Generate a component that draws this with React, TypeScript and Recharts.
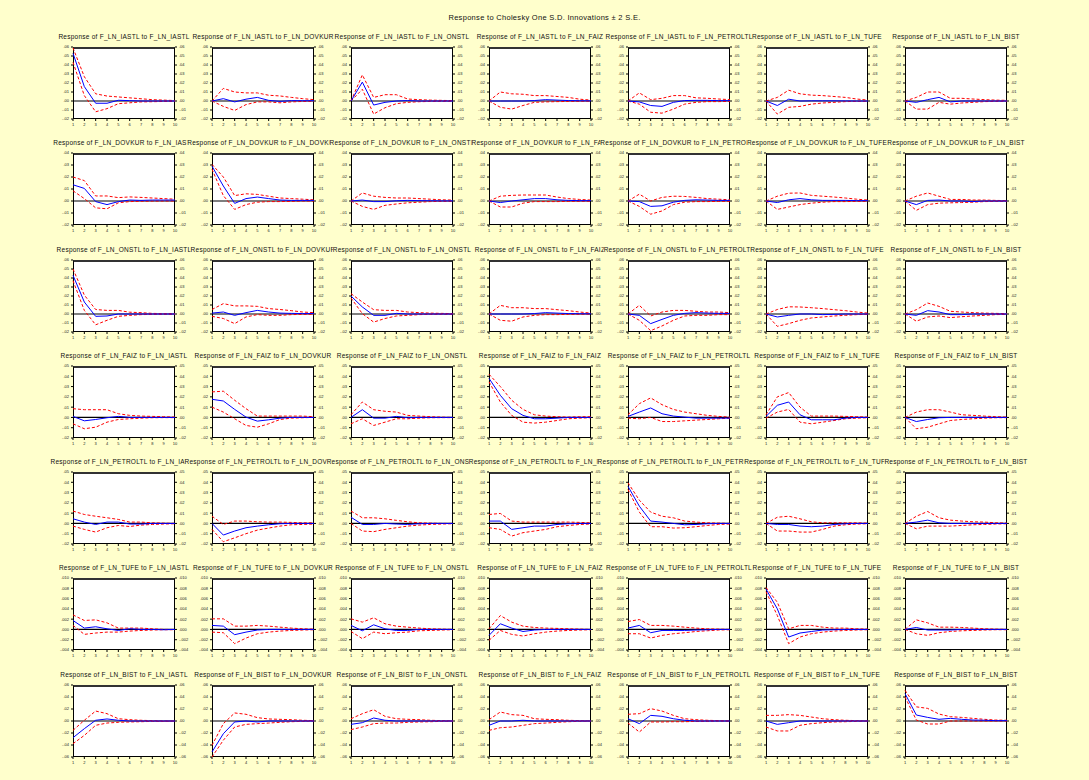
import { LineChart, Line, XAxis, YAxis, ReferenceLine } from "recharts";

const VARS = ["IASTL", "DOVKUR", "ONSTL", "FAIZ", "PETROLTL", "TUFE", "BIST"];
const PERIODS = [1, 2, 3, 4, 5, 6, 7, 8, 9, 10];

// y ticks for each response row (top to bottom of the grid)
const ROW_TICKS = [
  [-0.02, -0.01, 0, 0.01, 0.02, 0.03, 0.04, 0.05, 0.06],
  [-0.02, -0.01, 0, 0.01, 0.02, 0.03, 0.04],
  [-0.02, -0.01, 0, 0.01, 0.02, 0.03, 0.04, 0.05, 0.06],
  [-0.02, -0.01, 0, 0.01, 0.02, 0.03, 0.04, 0.05],
  [-0.02, -0.01, 0, 0.01, 0.02, 0.03, 0.04, 0.05],
  [-0.004, -0.002, 0, 0.002, 0.004, 0.006, 0.008, 0.01],
  [-0.06, -0.04, -0.02, 0, 0.02, 0.04, 0.06],
];
const ROW_DECIMALS = [2, 2, 2, 2, 2, 3, 2];

// response of IASTL to each shock
const IASTL_MID = [
  [0.053, 0.016, -0.0025, -0.0025, 0.0008, 0.0004, 0, 0, 0, 0],
  [0, 0.0026, -0.001, 0.002, 0.004, 0.0007, -0.0004, 0.0004, 0.0003, 0.0003],
  [0, 0.021, -0.0045, -0.0015, 0, 0.0005, 0, 0, 0, 0],
  [0, 0, 0, 0, 0.0005, 0.0015, 0.001, 0.0005, 0.0003, 0.0002],
  [0, -0.001, -0.005, -0.006, -0.0015, 0.0005, 0.0007, 0.0007, 0.0004, 0.0004],
  [0, -0.005, 0.002, 0, 0.0002, 0.0002, 0.0002, 0.0001, 0, 0],
  [0, -0.0015, 0.0015, 0.004, -0.001, 0, 0, 0, 0, 0],
];
const IASTL_UP = [
  [0.059, 0.027, 0.008, 0.0055, 0.0045, 0.0035, 0.0025, 0.0015, 0.001, 0.0005],
  [0, 0.014, 0.01, 0.009, 0.009, 0.0064, 0.0056, 0.004, 0.0026, 0.0015],
  [0, 0.029, 0.004, 0.007, 0.007, 0.0022, 0.0015, 0.001, 0.0007, 0.0004],
  [0, 0.01, 0.008, 0.0075, 0.006, 0.006, 0.005, 0.004, 0.002, 0.001],
  [0, 0.009, 0.0015, 0.003, 0.006, 0.006, 0.0035, 0.003, 0.0022, 0.0015],
  [0, 0.004, 0.012, 0.008, 0.0065, 0.006, 0.005, 0.004, 0.0022, 0.001],
  [0, 0.004, 0.01, 0.01, 0.003, 0.003, 0.0022, 0.0015, 0.001, 0.0007],
];
const IASTL_LO = [
  [0.043, 0.006, -0.012, -0.0085, -0.003, -0.002, -0.001, -0.0008, -0.0005, -0.0004],
  [0, -0.006, -0.0105, -0.004, -0.001, -0.001, -0.002, -0.001, -0.0005, -0.0003],
  [0, 0.013, -0.0145, -0.0075, -0.003, -0.0015, -0.0008, -0.0005, -0.0004, -0.0003],
  [0, -0.007, -0.009, -0.005, -0.0015, -0.001, -0.0007, -0.0005, -0.0003, -0.0002],
  [0, -0.0035, -0.0125, -0.0135, -0.009, -0.0035, -0.0015, -0.0007, -0.0007, -0.0004],
  [0, -0.0145, -0.007, -0.006, -0.0035, -0.0022, -0.0015, -0.0007, -0.0004, -0.0004],
  [0, -0.009, -0.009, -0.0015, -0.0035, -0.0022, -0.0015, -0.0007, -0.0004, -0.0003],
];

const DOVKUR_MID = [
  [0.0135, 0.0105, -0.0005, -0.003, -0.0005, 0.0008, 0.0005, 0.0008, 0.0008, 0.0008],
  [0.029, 0.0125, -0.002, 0.002, 0.0033, 0.002, 0.0008, 0.0005, 0.0005, 0.0005],
  [0, 0.0008, -0.0005, -0.0005, 0.0002, 0.0005, 0.0003, 0.0002, 0.0001, 0.0001],
  [0, -0.0013, 0, 0.001, 0.002, 0.002, 0.001, 0.0005, 0.0003, 0.0003],
  [0, -0.0005, -0.0045, -0.004, -0.001, 0.0005, 0.001, 0.0008, 0.0005, 0.0005],
  [0, -0.0013, 0.001, 0.002, 0.001, 0.0005, 0.0005, 0.0005, 0.0003, 0.0003],
  [0, -0.003, 0.0005, 0.0008, 0, 0, -0.0005, 0, 0, 0],
];
const DOVKUR_UP = [
  [0.02, 0.017, 0.0042, 0.0042, 0.0028, 0.0034, 0.003, 0.0025, 0.002, 0.0015],
  [0.0305, 0.02, 0.0045, 0.006, 0.0055, 0.004, 0.0025, 0.002, 0.0015, 0.001],
  [0, 0.0067, 0.004, 0.003, 0.0025, 0.0025, 0.002, 0.0015, 0.001, 0.0008],
  [0, 0.004, 0.0047, 0.005, 0.005, 0.005, 0.0033, 0.002, 0.0013, 0.0008],
  [0, 0.0057, 0, 0.003, 0.004, 0.0038, 0.003, 0.002, 0.0015, 0.001],
  [0, 0.004, 0.0065, 0.0067, 0.0047, 0.004, 0.0033, 0.0025, 0.0015, 0.0008],
  [0, 0.004, 0.0067, 0.004, 0.0013, 0.0013, 0.0008, 0.0008, 0.0005, 0.0003],
];
const DOVKUR_LO = [
  [0.0085, 0.002, -0.0057, -0.0065, -0.0015, -0.0005, -0.0002, -0.0001, 0, 0],
  [0.0265, 0.0045, -0.007, -0.003, -0.001, -0.0005, -0.0005, -0.0003, 0, 0],
  [0, -0.0045, -0.007, -0.0036, -0.0025, -0.0015, -0.001, -0.0005, -0.0003, -0.0003],
  [0, -0.005, -0.005, -0.0018, -0.0005, -0.0005, -0.0005, -0.0003, -0.0002, -0.0002],
  [0, -0.0045, -0.011, -0.0083, -0.003, -0.001, -0.0005, -0.0005, -0.0003, -0.0002],
  [0, -0.007, -0.005, -0.003, -0.0018, -0.001, -0.0005, -0.0005, -0.0003, -0.0003],
  [0, -0.0078, -0.003, -0.0018, -0.0015, -0.0013, -0.001, -0.0005, -0.0003, -0.0002],
];

const ONSTL_MID = [
  [0.043, 0.0133, -0.0026, -0.0022, 0, 0, 0, 0, 0, 0],
  [0.001, 0.0022, -0.0015, 0.0015, 0.004, 0.0022, 0.001, 0.0007, 0.0005, 0.0005],
  [0.02, 0.0078, -0.0015, -0.0015, 0.0007, 0, 0, 0, 0, 0],
  [0, 0, 0, 0, 0.0005, 0.0015, 0.001, 0.0005, 0.0003, 0.0002],
  [0, -0.0015, -0.0107, -0.006, -0.0015, 0.0007, 0.0015, 0.001, 0.0007, 0.0007],
  [0, -0.0033, -0.0015, 0, 0, -0.0007, -0.0004, 0, 0, 0],
  [0, -0.0015, 0.0037, 0.0022, -0.0007, -0.0007, 0, 0, 0, 0],
];
const ONSTL_UP = [
  [0.05, 0.021, 0.005, 0.004, 0.004, 0.002, 0.0015, 0.0007, 0.0004, 0.0004],
  [0.005, 0.0115, 0.009, 0.009, 0.0085, 0.006, 0.005, 0.0037, 0.0022, 0.0015],
  [0.0226, 0.0133, 0.0048, 0.004, 0.004, 0.0022, 0.0015, 0.001, 0.0007, 0.0004],
  [0, 0.0096, 0.007, 0.007, 0.006, 0.006, 0.0048, 0.0037, 0.0022, 0.001],
  [0, 0.0096, -0.0022, 0.0022, 0.004, 0.004, 0.003, 0.0022, 0.0022, 0.0015],
  [0, 0.005, 0.008, 0.0078, 0.007, 0.006, 0.0048, 0.0037, 0.0022, 0.001],
  [0, 0.0048, 0.0122, 0.0085, 0.003, 0.0022, 0.0015, 0.001, 0.0007, 0.0004],
];
const ONSTL_LO = [
  [0.037, 0.004, -0.012, -0.007, -0.0026, -0.0015, -0.0007, -0.0004, -0.0003, -0.0003],
  [-0.0026, -0.005, -0.0107, -0.0033, -0.0007, -0.0015, -0.0015, -0.0007, -0.0004, -0.0004],
  [0.0178, 0.0004, -0.009, -0.005, -0.0022, -0.0015, -0.0007, -0.0004, -0.0003, -0.0003],
  [0, -0.007, -0.008, -0.0033, -0.0015, -0.0007, -0.0007, -0.0004, -0.0003, -0.0002],
  [0, -0.007, -0.0185, -0.0133, -0.007, -0.0022, -0.0015, -0.0015, -0.0007, -0.0007],
  [0, -0.0137, -0.0107, -0.007, -0.0044, -0.0033, -0.0022, -0.0015, -0.0007, -0.0004],
  [0, -0.008, -0.0033, -0.0022, -0.004, -0.003, -0.0022, -0.0015, -0.0007, -0.0004],
];

const FAIZ_MID = [
  [0.001, -0.0033, -0.002, -0.0003, 0.001, 0, 0, 0, 0, 0],
  [0.0176, 0.016, 0.0078, 0.0003, -0.0036, -0.0023, -0.0007, 0, 0, 0],
  [0, 0.0075, -0.0007, -0.0007, 0.001, -0.0003, 0, 0, 0, 0],
  [0.038, 0.0215, 0.0085, 0.002, -0.0013, -0.0013, -0.0007, 0, 0, 0],
  [0.001, 0.0052, 0.0092, 0.0036, 0.0013, 0.0003, -0.0007, -0.0007, -0.0007, -0.0007],
  [0.001, 0.0118, 0.015, 0.0026, -0.0023, -0.0023, -0.0023, -0.0007, 0, 0],
  [0, -0.004, -0.002, -0.0003, 0, 0, 0, 0, 0, 0],
];
const FAIZ_UP = [
  [0.0085, 0.0075, 0.0075, 0.0075, 0.0036, 0.002, 0.0013, 0.001, 0.0007, 0.0003],
  [0.0248, 0.0255, 0.0167, 0.0085, 0.0013, 0.0013, 0.0013, 0.0013, 0.0013, 0.0007],
  [0.0026, 0.015, 0.0075, 0.006, 0.0052, 0.002, 0.0013, 0.0007, 0.0003, 0],
  [0.042, 0.03, 0.0167, 0.0078, 0.0026, 0.0013, 0.0007, 0.0003, 0.0007, 0.0007],
  [0.0026, 0.0134, 0.019, 0.0124, 0.0078, 0.0052, 0.0036, 0.002, 0.001, 0.0003],
  [0.0026, 0.02, 0.0242, 0.01, 0.0013, 0.0013, 0.0013, 0.001, 0.0007, 0.0003],
  [0, 0.0052, 0.0075, 0.0075, 0.0052, 0.0026, 0.002, 0.0013, 0.0007, 0.0003],
];
const FAIZ_LO = [
  [-0.0062, -0.011, -0.0095, -0.0046, -0.002, -0.0013, -0.0007, -0.0003, -0.0002, -0.0002],
  [0.01, 0.0052, -0.0013, -0.0078, -0.0095, -0.0062, -0.002, -0.0007, -0.0003, 0],
  [-0.0062, -0.0013, -0.0078, -0.0046, -0.0013, -0.0013, -0.0007, -0.0003, -0.0002, -0.0002],
  [0.0346, 0.015, 0.002, -0.0046, -0.0055, -0.0046, -0.003, -0.0013, -0.0007, -0.0003],
  [-0.0007, -0.0013, 0, -0.004, -0.004, -0.0033, -0.0026, -0.002, -0.0013, -0.0007],
  [-0.0007, 0.0052, 0.0078, -0.0046, -0.0062, -0.0046, -0.003, -0.0013, -0.0007, -0.0003],
  [0, -0.011, -0.0095, -0.0062, -0.003, -0.002, -0.0013, -0.0007, -0.0003, -0.0002],
];

const PETROL_MID = [
  [0.0045, 0.0013, -0.001, 0.0013, 0.0013, -0.0006, -0.0006, 0, 0, 0],
  [0, -0.0113, -0.0074, -0.0042, -0.0026, -0.0013, -0.0003, 0, 0, 0],
  [0.006, -0.001, -0.001, 0, -0.0006, -0.001, -0.0003, 0, 0, 0],
  [0.0023, 0.0023, -0.0058, -0.0042, -0.0026, -0.0026, -0.001, -0.0003, 0, 0],
  [0.036, 0.0168, 0.0023, 0.0013, 0, -0.0013, -0.001, -0.0003, 0, 0],
  [0, -0.001, -0.001, -0.0026, -0.0032, -0.0026, -0.001, -0.0003, 0, 0],
  [0, 0.0013, 0.0032, 0.0006, 0, 0, 0, 0, 0, 0],
];
const PETROL_UP = [
  [0.012, 0.0087, 0.007, 0.0055, 0.0039, 0.0013, 0.0013, 0.0006, 0.0003, 0],
  [0.007, -0.001, 0.0023, 0.0023, 0.0016, 0.0013, 0.0013, 0.001, 0.0006, 0.0006],
  [0.012, 0.0055, 0.0055, 0.0045, 0.003, 0.0016, 0.0006, 0.0003, 0, 0],
  [0.0087, 0.0097, 0.0023, 0.0013, 0.0013, 0.0013, 0.0013, 0.0013, 0.001, 0.0006],
  [0.0395, 0.0226, 0.011, 0.007, 0.0055, 0.0023, 0.0013, 0.0006, 0.0003, 0],
  [0, 0.006, 0.007, 0.0045, 0.0016, 0.0006, 0.0006, 0.0006, 0.0006, 0.0003],
  [0, 0.007, 0.0116, 0.0055, 0.0032, 0.0023, 0.0016, 0.0013, 0.0006, 0.0003],
];
const PETROL_LO = [
  [-0.0026, -0.0058, -0.0084, -0.0042, -0.002, -0.003, -0.0016, -0.001, -0.0006, -0.0003],
  [-0.0058, -0.0178, -0.014, -0.01, -0.0065, -0.0045, -0.0026, -0.0013, -0.001, -0.0006],
  [0, -0.0074, -0.008, -0.0058, -0.0042, -0.0026, -0.0016, -0.001, -0.0006, -0.0003],
  [-0.0042, -0.0058, -0.0123, -0.009, -0.0074, -0.0058, -0.0032, -0.002, -0.001, -0.0006],
  [0.033, 0.011, -0.0032, -0.0032, -0.0045, -0.0042, -0.0032, -0.002, -0.001, -0.0006],
  [0, -0.0074, -0.0074, -0.0084, -0.0084, -0.0058, -0.0026, -0.0013, -0.0006, -0.0003],
  [0, -0.0052, -0.0026, -0.0026, -0.0026, -0.002, -0.0013, -0.001, -0.0006, -0.0003],
];

const TUFE_MID = [
  [0.00174, 0.00026, 0.00052, 0.00012, -0.0002, 0.00012, 0, 0, -0.00006, 0],
  [0.00078, 0.00064, -0.00102, -0.00052, -0.00012, 0, 0, 0, 0, 0],
  [0.00078, -0.00026, 0.0009, 0.00012, -0.0002, -0.0002, 0, 0, 0, 0],
  [-0.00116, 0.0011, 0.00026, -0.0004, -0.00012, 0, 0, 0, 0, 0],
  [0.00026, 0.00078, -0.00064, -0.0002, -0.0002, -0.0002, -0.00012, -0.00006, 0, 0],
  [0.00784, 0.004, -0.00148, -0.0007, -0.0004, -0.00012, -0.00006, 0, 0, 0],
  [0, 0.00038, -0.00012, -0.00012, -0.00012, 0, 0, 0, 0, 0],
];
const TUFE_UP = [
  [0.00282, 0.00174, 0.00186, 0.00128, 0.00026, 0.00026, 0.00026, 0.00012, 0, 0],
  [0.00206, 0.00206, 0.00064, 0.00064, 0.00078, 0.00064, 0.00044, 0.00026, 0.00012, 0.00006],
  [0.00206, 0.00142, 0.00226, 0.0011, 0.00064, 0.00044, 0.00026, 0.00012, 0.00006, 0],
  [0.00012, 0.0027, 0.00142, 0.00064, 0.00038, 0.00026, 0.0002, 0.00012, 0.00006, 0],
  [0.00154, 0.00192, 0.00078, 0.00078, 0.00064, 0.00044, 0.00026, 0.00012, 0.00006, 0],
  [0.00816, 0.00528, 0.00012, 0.00078, 0.00078, 0.00044, 0.00026, 0.00026, 0.00012, 0.00006],
  [0, 0.00186, 0.00128, 0.00044, 0.00044, 0.00038, 0.00026, 0.00012, 0.00006, 0],
];
const TUFE_LO = [
  [0.00078, -0.00096, -0.0007, -0.00052, -0.00052, -0.00032, -0.0002, -0.00012, -0.00006, -0.00006],
  [-0.00052, -0.00064, -0.00276, -0.00168, -0.00084, -0.00052, -0.00032, -0.0002, -0.00012, -0.00006],
  [-0.0004, -0.0018, -0.00052, -0.00084, -0.00064, -0.00052, -0.00026, -0.0002, -0.00012, -0.00006],
  [-0.00212, -0.0002, -0.00096, -0.00128, -0.00084, -0.00052, -0.00032, -0.0002, -0.00012, -0.00006],
  [-0.00084, -0.00084, -0.00168, -0.00116, -0.00084, -0.00064, -0.0004, -0.00026, -0.00012, -0.00006],
  [0.00734, 0.0027, -0.00276, -0.00148, -0.00084, -0.00052, -0.00032, -0.0002, -0.00012, -0.00006],
  [0, -0.00084, -0.00116, -0.00064, -0.0004, -0.00026, -0.0002, -0.00012, -0.00006, -0.00006],
];

const BIST_MID = [
  [-0.0278, -0.0128, 0.0012, 0.0034, 0.0012, 0, 0, 0, 0, 0],
  [-0.0516, -0.0212, -0.0016, 0, -0.0016, 0, 0, 0, 0, 0],
  [-0.0056, -0.0028, 0.005, 0.0012, 0, 0, 0, 0, 0, 0],
  [-0.0072, 0, 0, 0.0012, 0, 0, 0, 0, 0, 0],
  [0.0038, -0.0044, 0.0094, 0.0078, 0.0038, 0.0012, 0, 0, 0, 0],
  [0, -0.0056, -0.0028, 0, 0, 0, 0, 0, 0, 0],
  [0.0458, 0.01, 0.006, 0.0028, 0.0044, 0.0028, 0.0016, 0.0012, 0.0006, 0.0006],
];
const BIST_UP = [
  [-0.0156, 0.0012, 0.0166, 0.0122, 0.0038, 0.0022, 0.0012, 0.0006, 0, 0],
  [-0.0406, -0.0044, 0.0134, 0.0112, 0.0056, 0.0034, 0.0028, 0.0022, 0.0012, 0.0006],
  [0.0038, 0.0122, 0.0188, 0.0078, 0.0038, 0.0028, 0.0022, 0.0012, 0.0006, 0],
  [0.0022, 0.015, 0.0106, 0.0094, 0.0038, 0.0028, 0.0022, 0.0012, 0.0006, 0],
  [0.0112, 0.0122, 0.0206, 0.0166, 0.0094, 0.0038, 0.0022, 0.0012, 0.0006, 0],
  [0.0094, 0.0094, 0.0106, 0.0094, 0.0066, 0.0038, 0.0022, 0.0012, 0.0006, 0],
  [0.0512, 0.0236, 0.021, 0.0116, 0.0072, 0.006, 0.0044, 0.0028, 0.0016, 0.0012],
];
const BIST_LO = [
  [-0.0378, -0.024, -0.0072, -0.0034, -0.0022, -0.0016, -0.0012, -0.0006, -0.0006, 0],
  [-0.06, -0.032, -0.01, -0.0056, -0.0044, -0.0034, -0.0022, -0.0012, -0.0006, 0],
  [-0.0144, -0.01, -0.0044, -0.0034, -0.0034, -0.0022, -0.0016, -0.0012, -0.0006, 0],
  [-0.0156, -0.0112, -0.01, -0.0072, -0.0044, -0.0034, -0.0022, -0.0012, -0.0006, 0],
  [-0.0034, -0.0184, -0.0016, -0.0016, -0.0012, -0.0012, -0.0006, -0.0006, 0, 0],
  [-0.01, -0.0166, -0.0166, -0.0072, -0.0044, -0.0028, -0.0016, -0.0012, -0.0006, 0],
  [0.0402, 0.0016, -0.005, -0.005, 0, 0, 0, 0, 0, 0],
];

const MID = [IASTL_MID, DOVKUR_MID, ONSTL_MID, FAIZ_MID, PETROL_MID, TUFE_MID, BIST_MID];
const UP = [IASTL_UP, DOVKUR_UP, ONSTL_UP, FAIZ_UP, PETROL_UP, TUFE_UP, BIST_UP];
const LO = [IASTL_LO, DOVKUR_LO, ONSTL_LO, FAIZ_LO, PETROL_LO, TUFE_LO, BIST_LO];

const BG = "#FFFFCC";
const FONT = "'Liberation Sans', Arial, sans-serif";
const PLOT_W = 102;
const PLOT_H = 72;
const COL_LEFT = [73, 212, 351, 489, 628, 766, 905];
const ROW_TOP = [47, 153, 260, 366, 472, 578, 685];
const AXIS_W = 20;

const fmt = (dec: number) => (v: number) => {
  const s = Math.abs(v) < 1e-9 ? (0).toFixed(dec) : v.toFixed(dec);
  return s.replace(/^(-?)0\./, "$1.");
};

function Panel({ row, col }: { row: number; col: number }) {
  const data = PERIODS.map((p, k) => ({
    p,
    mid: MID[row][col][k],
    up: UP[row][col][k],
    lo: LO[row][col][k],
  }));
  const ticks = ROW_TICKS[row];
  const domain = [ticks[0], ticks[ticks.length - 1]];
  const left = COL_LEFT[col];
  const top = ROW_TOP[row];
  const tickStyle = { fontSize: 4, fill: "#222", fontFamily: FONT };
  return (
    <>
      <div
        style={{
          position: "absolute",
          left: left + PLOT_W / 2,
          top: top - 14,
          transform: "translateX(-50%)",
          whiteSpace: "nowrap",
          fontSize: 6.5,
          lineHeight: "8px",
          letterSpacing: 0.25,
          fontFamily: FONT,
          color: "#111",
          background: BG,
        }}
      >
        {`Response of F_LN_${VARS[row]} to F_LN_${VARS[col]}`}
      </div>
      <div
        style={{
          position: "absolute",
          left: left,
          top: top,
          width: PLOT_W,
          height: PLOT_H,
          boxSizing: "border-box",
          background: "#fff",
          border: "1px solid #000",
          borderTop: "2px solid #333",
        }}
      />
      <div style={{ position: "absolute", left: left - AXIS_W, top: top - 2 }}>
        <LineChart
          width={PLOT_W + AXIS_W * 2}
          height={PLOT_H + 14}
          data={data}
          margin={{ top: 2, right: 0, bottom: 0, left: 0 }}
        >
          <XAxis
            dataKey="p"
            type="number"
            domain={[1, 10]}
            ticks={PERIODS}
            interval={0}
            height={12}
            axisLine={false}
            tickSize={2}
            tickLine={{ stroke: "#000" }}
            tick={tickStyle}
          />
          <YAxis
            yAxisId="l"
            orientation="left"
            width={AXIS_W}
            domain={domain}
            ticks={ticks}
            interval={0}
            allowDataOverflow
            axisLine={false}
            tickSize={2}
            tickLine={{ stroke: "#000" }}
            tick={tickStyle}
            tickFormatter={fmt(ROW_DECIMALS[row])}
          />
          <YAxis
            yAxisId="r"
            orientation="right"
            width={AXIS_W}
            domain={domain}
            ticks={ticks}
            interval={0}
            allowDataOverflow
            axisLine={false}
            tickSize={2}
            tickLine={{ stroke: "#000" }}
            tick={tickStyle}
            tickFormatter={fmt(ROW_DECIMALS[row])}
          />
          <ReferenceLine yAxisId="l" y={0} stroke="#000" strokeWidth={1.2} />
          <Line
            yAxisId="l"
            dataKey="up"
            stroke="#FF0000"
            strokeWidth={1}
            strokeDasharray="3 2"
            dot={false}
            isAnimationActive={false}
          />
          <Line
            yAxisId="l"
            dataKey="lo"
            stroke="#FF0000"
            strokeWidth={1}
            strokeDasharray="3 2"
            dot={false}
            isAnimationActive={false}
          />
          <Line
            yAxisId="l"
            dataKey="mid"
            stroke="#0000FF"
            strokeWidth={1}
            dot={false}
            isAnimationActive={false}
          />
        </LineChart>
      </div>
    </>
  );
}

export default function App() {
  return (
    <div
      style={{
        position: "absolute",
        left: 0,
        top: 0,
        width: 1089,
        height: 780,
        background: BG,
        overflow: "hidden",
        fontFamily: FONT,
      }}
    >
      <div
        style={{
          position: "absolute",
          left: 0,
          width: 1089,
          top: 13,
          textAlign: "center",
          fontSize: 7.5,
          letterSpacing: 0.3,
          color: "#111",
        }}
      >
        Response to Cholesky One S.D. Innovations ± 2 S.E.
      </div>
      {VARS.map((_, r) =>
        VARS.map((__, c) => <Panel key={`${r}-${c}`} row={r} col={c} />)
      )}
    </div>
  );
}
